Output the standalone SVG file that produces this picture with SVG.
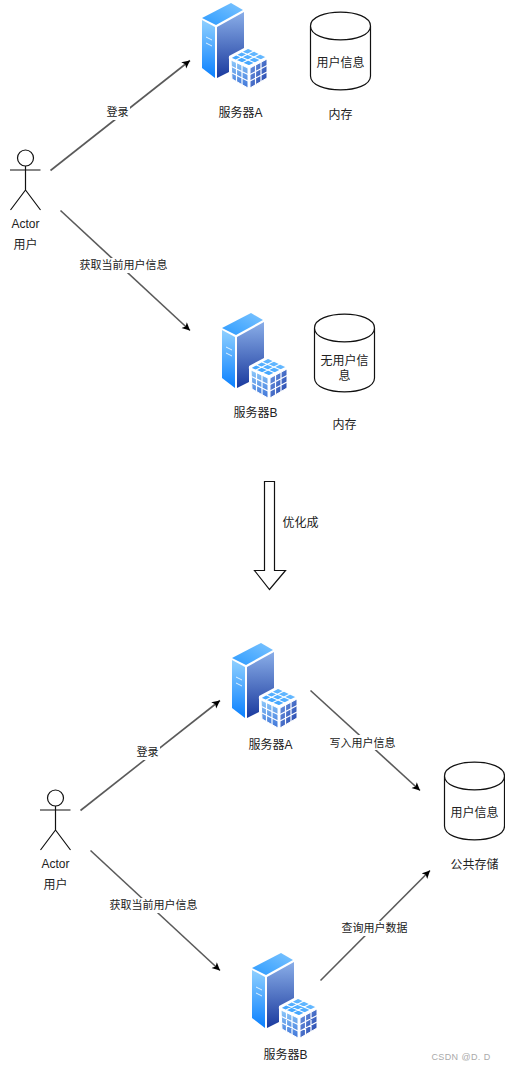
<svg xmlns="http://www.w3.org/2000/svg" xmlns:xlink="http://www.w3.org/1999/xlink" width="505" height="1070" viewBox="0 0 505 1070">
<style>
text{font-family:"Liberation Sans","Noto Sans CJK SC",sans-serif;font-size:12px;fill:#222;text-anchor:middle}
.lb{font-size:11px}
.e{fill:none;stroke:#5a5a5a;stroke-width:1.6;marker-end:url(#a)}
.s{fill:#fff;stroke:#111;stroke-width:1.2}
.a{fill:none;stroke:#111;stroke-width:1.2}
.bg{fill:#fff}
.g{fill:none;stroke:#fff;stroke-width:1.2}
</style>
<defs>
<marker id="a" markerUnits="userSpaceOnUse" markerWidth="10" markerHeight="10" refX="8" refY="4" orient="auto"><path d="M0 0L8 4L0 8L2 4Z" fill="#000"/></marker>
<linearGradient id="f1" x1="0" y1="0" x2="0" y2="1"><stop offset="0" stop-color="#8fd0ff"/><stop offset="1" stop-color="#0a80ff"/></linearGradient>
<linearGradient id="f2" x1="0" y1="0" x2="0" y2="1"><stop offset="0" stop-color="#8aaee8"/><stop offset="1" stop-color="#1a3a9e"/></linearGradient>
<linearGradient id="f3" x1="0" y1="1" x2="1" y2="0"><stop offset="0" stop-color="#2d9bff"/><stop offset="1" stop-color="#7cc4ff"/></linearGradient>
<linearGradient id="f4" x1="0" y1="0" x2="0" y2="1"><stop offset="0" stop-color="#8ecbfb"/><stop offset="1" stop-color="#3f74d8"/></linearGradient>
<linearGradient id="f5" x1="0" y1="0" x2="1" y2="1"><stop offset="0" stop-color="#6f9be6"/><stop offset="1" stop-color="#1f3fa8"/></linearGradient>
<g id="srv">
<polygon points="0,16 29,1 41,8 14,23" fill="url(#f3)"/>
<polygon points="0,18 13,25 13,76 0,66" fill="url(#f1)"/>
<polygon points="15,25 42,10 42,46 27,54 27,70 15,76" fill="url(#f2)"/>
<path d="M4 35l6 3M4 41l6 3" stroke="#fff" stroke-width="0.8" fill="none"/>
<polygon points="46,46 28,56 47,64 65,55" fill="url(#f3)" stroke="#fff" stroke-width="1.5"/>
<polygon points="29,58 46,66 46,86 30,77" fill="url(#f4)" stroke="#fff" stroke-width="1"/>
<polygon points="48,66 65,57 65,76 48,86" fill="url(#f5)" stroke="#fff" stroke-width="1"/>
<path class="g" d="M34.500 53L53 61M40 50L59 58M40 61L58 52M34 58L52 49M34.500 60.500V80M40 63V83M29.500 64.500L46 72.500M30 71L46 79M53.500 62.500V83M59 60V80M48 72.500L65 63.500M48 79L65 70"/>
</g>
<g id="actor">
<circle cx="25.500" cy="158" r="8" class="a"/>
<path class="a" d="M25.500 166V190M10 170H40.500M25.500 190L10.500 210M25.500 190L40.500 210"/>
</g>
<path id="cyl" d="M0 14C0 -4.500 60 -4.500 60 14V64C60 82.500 0 82.500 0 64ZM0 14C0 32.500 60 32.500 60 14"/>
</defs>

<g id="connectors">
<path class="e" d="M50.500 170.500L190 60.500"/>
<path class="e" d="M60.500 210.500L190 330.500"/>
<path class="e" d="M80.500 810.500L220 700.500"/>
<path class="e" d="M90.500 850.500L220 970.500"/>
<path class="e" d="M310.500 690.500L420 790.500"/>
<path class="e" d="M320.500 980.500L430 870.500"/>
<rect class="bg" x="105" y="105" width="25" height="15"/>
<text class="lb" x="117.500" y="116">登录</text>
<rect class="bg" x="79" y="258" width="89" height="15"/>
<text class="lb" x="123.500" y="269">获取当前用户信息</text>
<rect class="bg" x="135" y="745" width="25" height="15"/>
<text class="lb" x="147.500" y="756">登录</text>
<rect class="bg" x="109" y="898" width="89" height="15"/>
<text class="lb" x="153.500" y="909">获取当前用户信息</text>
<rect class="bg" x="329" y="735" width="67" height="15"/>
<text class="lb" x="362.500" y="747">写入用户信息</text>
<rect class="bg" x="341" y="921" width="67" height="15"/>
<text class="lb" x="374.500" y="932">查询用户数据</text>
</g>

<g id="actor1"><use xlink:href="#actor" href="#actor"/><text x="25.500" y="228">Actor</text><text x="25.500" y="249">用户</text></g>
<g id="serverA1"><use href="#srv" transform="translate(202 2)"/><text x="240.500" y="117">服务器A</text></g>
<g id="mem1"><use href="#cyl" class="s" transform="translate(310.500 12)"/><text x="340.500" y="67">用户信息</text><text x="340.500" y="119">内存</text></g>
<g id="serverB1"><use href="#srv" transform="translate(222 312)"/><text x="255.500" y="417">服务器B</text></g>
<g id="mem2"><use href="#cyl" class="s" transform="translate(314.500 314)"/><text x="344.500" y="365">无用户信</text><text x="344.500" y="380">息</text><text x="344.500" y="429">内存</text></g>

<g id="optimize"><path class="s" d="M264.500 481.500H274.500V570.500H285.500L269.500 589.500L254.500 570.500H264.500Z"/><text x="300.500" y="527">优化成</text></g>

<g id="actor2"><use href="#actor" transform="translate(30 640)"/><text x="55.500" y="868">Actor</text><text x="55.500" y="889">用户</text></g>
<g id="serverA2"><use href="#srv" transform="translate(232 642)"/><text x="270.500" y="749">服务器A</text></g>
<g id="serverB2"><use href="#srv" transform="translate(252 952)"/><text x="285.500" y="1059">服务器B</text></g>
<g id="store"><use href="#cyl" class="s" transform="translate(444.500 762)"/><text x="474.500" y="817">用户信息</text><text x="474.500" y="869">公共存储</text></g>
<text x="461" y="1060" style="font-size:9px;fill:#aaa;letter-spacing:.4px">CSDN @D. D</text>
</svg>
